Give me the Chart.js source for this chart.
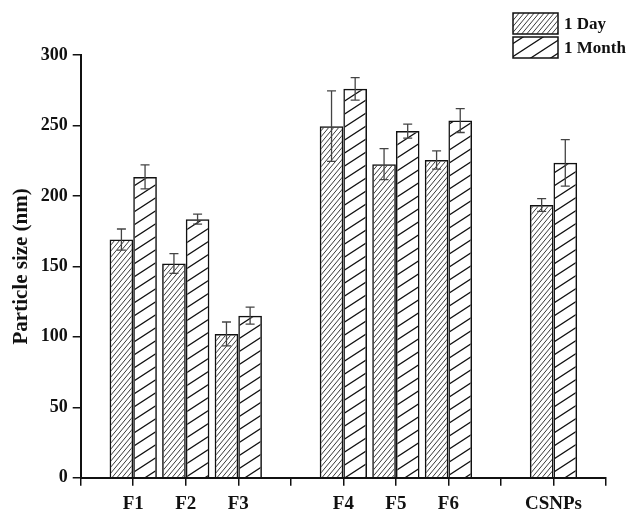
<!DOCTYPE html>
<html>
<head>
<meta charset="utf-8">
<title>Particle size</title>
<script src="https://cdn.jsdelivr.net/npm/chart.js@4.4.1/dist/chart.umd.min.js"></script>
<style>
  html, body { margin: 0; padding: 0; background: #fff; }
  canvas { display: block; }
</style>
</head>
<body>
<canvas id="sizeChart" width="629" height="513"></canvas>
<script>
// categories incl. blank slots used as gaps between the groups
const categories = ["", "F1", "F2", "F3", "", "F4", "F5", "F6", "", "CSNPs", ""];

const dayValues   = [null, 169, 152, 102, null, 249.5, 222.5, 225.5, null, 193.5, null];
const monthValues = [null, 213.5, 183.5, 115, null, 276, 246, 253.5, null, 223.5, null];

const dayErrors   = [null, 7.5, 7, 8.5, null, 25, 11, 6.5, null, 4.5, null];
const monthErrors = [null, 8.5, 3.5, 6, null, 8, 5, 8.5, null, 16.5, null];

const seriesNames = ["1 Day", "1 Month"];
const yTicks = { min: 0, max: 300, step: 50 };

const FONT = "'Liberation Serif', 'Times New Roman', serif";

// hatch fill: diagonal lines rising to the right
function makeHatch(w, h, lineWidth, color) {
    const c = document.createElement("canvas");
    c.width = w;
    c.height = h;
    const g = c.getContext("2d");
    g.strokeStyle = color;
    g.lineWidth = lineWidth;
    g.beginPath();
    for (let k = -1; k <= 1; k++) {
        g.moveTo(-1, h + k * h + h / w);
        g.lineTo(w + 1, k * h - h / w);
    }
    g.stroke();
    return g.createPattern(c, "repeat");
}

const dayHatch = makeHatch(5, 6, 1, "#3a3a3a");
const monthHatch = makeHatch(20, 13, 1.3, "#111");

const errorSets = [dayErrors, monthErrors];

// error bars drawn on top of the bars
const errorBars = {
    id: "errorBars",
    afterDatasetsDraw(chart) {
        const ctx = chart.ctx;
        const y = chart.scales.y;
        ctx.save();
        ctx.strokeStyle = "#444";
        ctx.lineWidth = 1.3;
        chart.data.datasets.forEach((ds, d) => {
            const meta = chart.getDatasetMeta(d);
            ds.data.forEach((v, i) => {
                const e = errorSets[d][i];
                if (v == null || e == null) return;
                const x = meta.data[i].x;
                const top = y.getPixelForValue(v + e);
                const bot = y.getPixelForValue(v - e);
                ctx.beginPath();
                ctx.moveTo(x, top);
                ctx.lineTo(x, bot);
                ctx.moveTo(x - 4.5, top);
                ctx.lineTo(x + 4.5, top);
                ctx.moveTo(x - 4.5, bot);
                ctx.lineTo(x + 4.5, bot);
                ctx.stroke();
            });
        });
        ctx.restore();
    }
};

// legend box in the top right corner, stacked vertically
const boxLegend = {
    id: "boxLegend",
    afterDraw(chart) {
        const ctx = chart.ctx;
        ctx.save();
        chart.data.datasets.forEach((ds, i) => {
            const bx = 513, by = 13 + i * 24, bw = 45, bh = 21;
            ctx.fillStyle = ds.backgroundColor;
            ctx.fillRect(bx, by, bw, bh);
            ctx.strokeStyle = "#111";
            ctx.lineWidth = 1.5;
            ctx.strokeRect(bx, by, bw, bh);
            ctx.fillStyle = "#111";
            ctx.font = "bold 17px " + FONT;
            ctx.textBaseline = "middle";
            ctx.textAlign = "left";
            ctx.fillText(ds.label, bx + bw + 6, by + bh / 2 + 1);
        });
        ctx.restore();
    }
};

const ctx = document.getElementById("sizeChart").getContext("2d");
const sizeChart = new Chart(ctx, {
    type: "bar",
    data: {
        labels: categories,
        datasets: [
            { label: seriesNames[0], data: dayValues, backgroundColor: dayHatch,
              borderColor: "#111", borderWidth: 1.5 },
            { label: seriesNames[1], data: monthValues, backgroundColor: monthHatch,
              borderColor: "#111", borderWidth: 1.5 }
        ]
    },
    options: {
        responsive: false,
        animation: false,
        events: [],
        categoryPercentage: 0.9,
        barPercentage: 1.0,
        layout: {
            autoPadding: false,
            padding: { left: 0, top: 55, right: 23, bottom: 0 }
        },
        plugins: {
            legend: { display: false },
            tooltip: { enabled: false }
        },
        scales: {
            x: {
                offset: false,
                grid: { offset: false, drawOnChartArea: false, drawTicks: true, tickLength: 8,
                        color: "#111", lineWidth: 1.5 },
                border: { display: true, color: "#111", width: 2 },
                ticks: { autoSkip: false, maxRotation: 0, padding: 7, color: "#111",
                         font: { family: FONT, size: 19, weight: "bold" } },
                afterFit(scale) { scale.height = 35.3; }
            },
            y: {
                min: yTicks.min,
                max: yTicks.max,
                grid: { drawOnChartArea: false, drawTicks: true, tickLength: 8,
                        color: "#111", lineWidth: 1.5 },
                border: { display: true, color: "#111", width: 2 },
                ticks: { stepSize: yTicks.step, padding: 5, color: "#111",
                         font: { family: FONT, size: 18, weight: "bold" } },
                title: { display: true, text: "Particle size (nm)", color: "#111",
                         padding: { top: 9, bottom: 0 },
                         font: { family: FONT, size: 21, weight: "bold" } },
                afterFit(scale) { scale.width = 80.7; }
            }
        }
    },
    plugins: [errorBars, boxLegend]
});
</script>
</body>
</html>
